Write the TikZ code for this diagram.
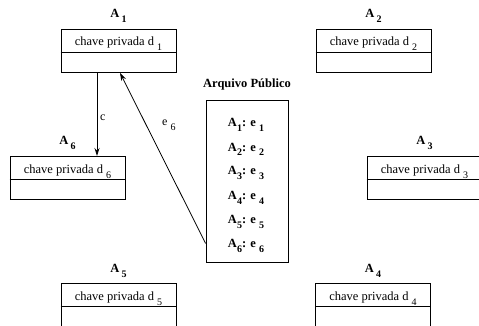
\documentclass[tikz,border=0pt]{standalone}
\usepackage{fontspec}
\setmainfont{Liberation Serif}
\usetikzlibrary{arrows.meta}
\newcommand\lsub[1]{\raisebox{-5pt}{\fontsize{10}{10}\selectfont #1}}
\newcommand\keyboxat[4]{%
  \node[keybox] (#1) at (#2,#3) {};
  \draw[thinline] ([yshift=-23pt]#1.north west) -- ([yshift=-23pt]#1.north east);
  \node[keytext] (#1t) at ([yshift=-17pt]#1.north) {chave privada d \lsub{#4}};
  \node[alabel] (#1l) at ([yshift=11pt]#1.north) {A\,\lsub{#4}};
}
\begin{document}
\begin{tikzpicture}[x=1pt,y=-1pt,
  thinline/.style={line width=0.8pt},
  keybox/.style={draw, thinline, minimum width=115pt, minimum height=43pt, inner sep=0pt, anchor=north},
  keytext/.style={anchor=base, font=\fontsize{12.5}{14}\selectfont, inner sep=0pt},
  alabel/.style={anchor=base, font=\fontsize{12.5}{14}\selectfont\bfseries, inner sep=0pt},
  entry/.style={anchor=base, font=\fontsize{12.5}{14}\selectfont\bfseries, inner sep=0pt},
  arlabel/.style={anchor=base west, font=\fontsize{12}{13}\selectfont, inner sep=0pt},
  arr/.style={thinline, -{Stealth[length=8pt,width=5pt]}}
]
\clip (0,0) rectangle (479,326);
\keyboxat{b1}{118.5}{29}{1}
\keyboxat{b2}{373.5}{29}{2}
\keyboxat{b3}{424.5}{156}{3}
\keyboxat{b4}{373}{283}{4}
\keyboxat{b5}{118.5}{283}{5}
\keyboxat{b6}{67.5}{156}{6}
% public file
\node[draw, thinline, minimum width=82pt, minimum height=162pt, inner sep=0pt] (arq) at (247,181) {};
\node[alabel] (title) at (247,88) {Arquivo Público};
\foreach \i in {1,...,6}
  \node[entry] (e\i) at (246,{127+24*(\i-1)}) {A\lsub{\i}: e \lsub{\i}};
% connectors
\coordinate (cx) at (97,0);
\coordinate (ex) at (120,0);
\draw[arr] (b1.south -| cx) -- (b6.north -| cx);
\node[arlabel] (clab) at (100,121) {c};
\draw[arr] ([yshift=19pt]arq.south west) -- (b1.south -| ex);
\node[arlabel] (elab) at (162,126) {e \lsub{6}};
\end{tikzpicture}
\end{document}
